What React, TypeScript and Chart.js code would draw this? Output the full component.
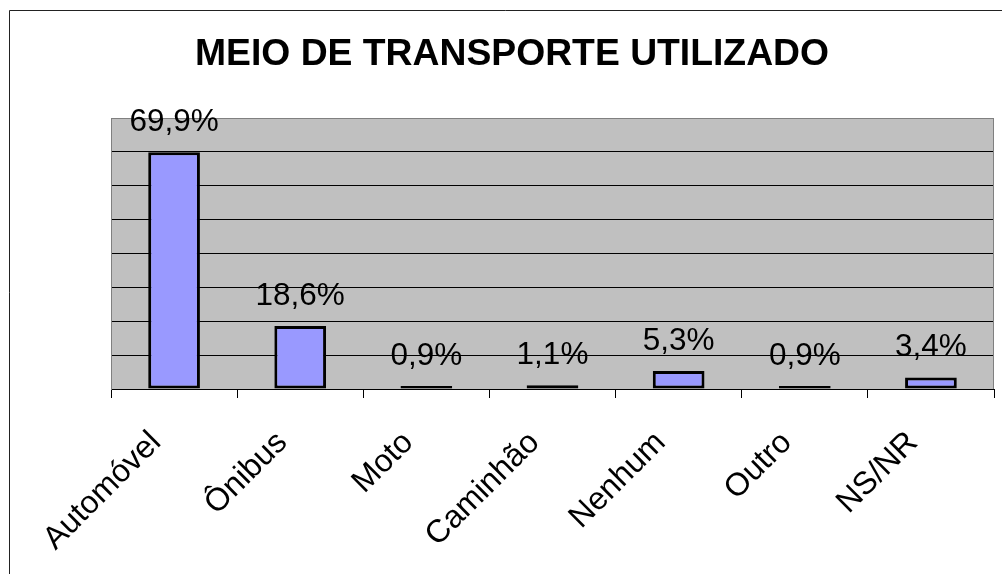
import React, { useEffect, useRef } from 'react';
import { Chart, registerables } from 'chart.js';

Chart.register(...registerables);

const TITLE = 'MEIO DE TRANSPORTE UTILIZADO';
const categories = ['Automóvel', 'Ônibus', 'Moto', 'Caminhão', 'Nenhum', 'Outro', 'NS/NR'];
const values = [69.9, 18.6, 0.9, 1.1, 5.3, 0.9, 3.4];
const Y_MIN = 0;
const Y_MAX = 80;
const Y_STEP = 10;

const FONT = "'Liberation Sans', Arial, sans-serif";

function fmt(v: number): string {
  return v.toFixed(1).replace('.', ',') + '%';
}

export default function App() {
  const ref = useRef<HTMLCanvasElement>(null);

  useEffect(() => {
    const canvas = ref.current;
    if (!canvas) return;

    const decor = {
      id: 'decor',
      beforeDraw(chart: any) {
        const { ctx, chartArea: a } = chart;
        ctx.save();
        ctx.fillStyle = '#ffffff';
        ctx.fillRect(0, 0, chart.width, chart.height);
        ctx.fillStyle = '#C0C0C0';
        ctx.fillRect(a.left, a.top, a.right - a.left, a.bottom - a.top);
        ctx.strokeStyle = '#222222';
        ctx.lineWidth = 1;
        ctx.beginPath();
        ctx.moveTo(9.5, chart.height);
        ctx.lineTo(9.5, 10.5);
        ctx.lineTo(chart.width, 10.5);
        ctx.stroke();
        ctx.fillStyle = '#000000';
        ctx.font = `bold 37.3px ${FONT}`;
        ctx.textAlign = 'center';
        ctx.textBaseline = 'alphabetic';
        ctx.fillText(TITLE, 512, 65);
        ctx.restore();
      },
      afterDatasetsDraw(chart: any) {
        const { ctx, chartArea: a } = chart;
        ctx.save();
        ctx.strokeStyle = '#808080';
        ctx.lineWidth = 1;
        ctx.beginPath();
        ctx.moveTo(Math.round(a.right) - 0.5, a.top);
        ctx.lineTo(Math.round(a.right) - 0.5, a.bottom);
        ctx.stroke();
        const meta = chart.getDatasetMeta(0);
        ctx.fillStyle = '#000000';
        ctx.font = `31.5px ${FONT}`;
        ctx.textAlign = 'center';
        ctx.textBaseline = 'alphabetic';
        meta.data.forEach((el: any, i: number) => {
          ctx.fillText(fmt(values[i]), el.x, el.y - 21);
        });
        ctx.restore();
      },
    };

    const chart = new Chart(canvas, {
      type: 'bar',
      data: {
        labels: categories,
        datasets: [
          {
            data: values,
            backgroundColor: '#9999FF',
            borderColor: '#000000',
            borderWidth: 3,
            borderSkipped: false,
            barPercentage: 0.41,
            categoryPercentage: 1,
          },
        ],
      },
      options: {
        responsive: false,
        animation: false,
        devicePixelRatio: 1,
        layout: { padding: { left: 111, right: 8, top: 118, bottom: 0 } },
        plugins: {
          legend: { display: false },
          title: { display: false },
          tooltip: { enabled: false },
        },
        scales: {
          x: {
            grid: {
              offset: true,
              drawOnChartArea: false,
              drawTicks: true,
              tickLength: 9,
              color: '#000000',
            },
            border: { display: true, color: '#000000', width: 1 },
            ticks: {
              autoSkip: false,
              minRotation: 45,
              maxRotation: 45,
              padding: 26,
              labelOffset: -18,
              color: '#000000',
              font: { size: 32, family: FONT },
            },
            afterFit(scale: any) {
              scale.height = 185;
            },
          },
          y: {
            min: Y_MIN,
            max: Y_MAX,
            ticks: { display: false, stepSize: Y_STEP },
            grid: {
              drawTicks: false,
              color: (c: any) => (c.tick && c.tick.value === Y_MAX ? '#808080' : '#000000'),
            },
            border: { display: true, color: '#808080', width: 1 },
            afterFit(scale: any) {
              scale.width = 0;
            },
          },
        },
      },
      plugins: [decor],
    });

    return () => chart.destroy();
  }, []);

  return (
    <div style={{ position: 'absolute', left: 0, top: 0, width: 1002, height: 574 }}>
      <canvas ref={ref} width={1002} height={574} style={{ display: 'block' }} />
    </div>
  );
}
